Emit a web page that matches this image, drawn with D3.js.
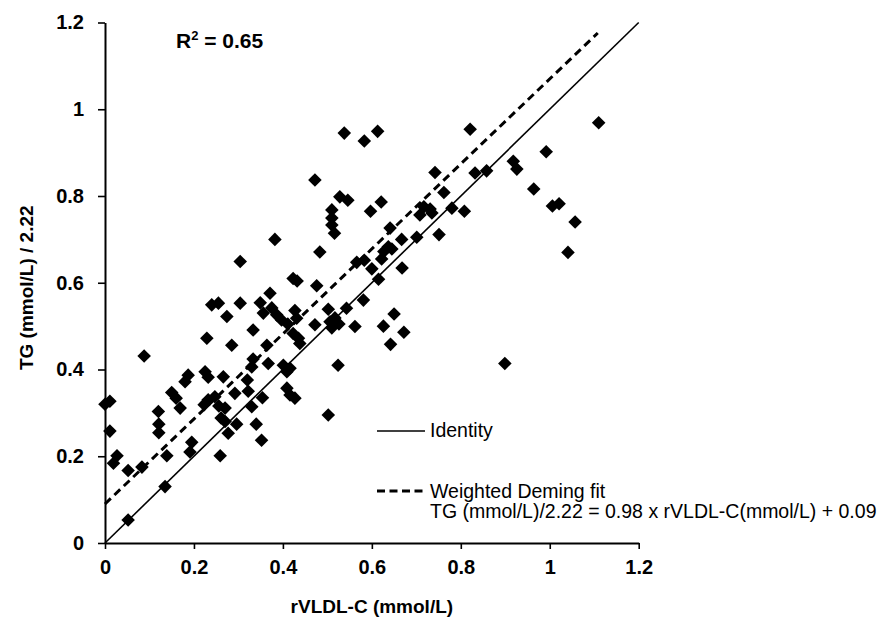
<!DOCTYPE html>
<html>
<head>
<meta charset="utf-8">
<script src="https://cdn.jsdelivr.net/npm/d3@7"></script>
<style>
  html, body { margin: 0; padding: 0; background: #fff; }
  svg { display: block; }
  text { font-family: "Liberation Sans", Arial, sans-serif; }
</style>
</head>
<body>
<svg id="chart" width="878" height="631"></svg>
<script>
// ---- data ----
const rvldl = [
  0.000,0.011,0.011,0.027,0.019,0.052,0.083,0.088,0.135,0.052,
  0.120,0.121,0.121,0.139,0.150,0.160,0.169,0.180,0.187,0.195,
  0.191,0.225,0.232,0.229,0.240,0.255,0.274,0.266,0.285,0.223,
  0.232,0.247,0.256,0.270,0.261,0.270,0.277,0.296,0.259,0.292,
  0.304,0.304,0.349,0.371,0.375,0.386,0.397,0.411,0.427,0.431,
  0.423,0.432,0.476,0.333,0.356,0.364,0.423,0.435,0.438,0.472,
  0.502,0.506,0.517,0.526,0.510,0.543,0.562,0.581,0.333,0.330,
  0.367,0.401,0.409,0.416,0.320,0.322,0.330,0.340,0.352,0.354,
  0.409,0.416,0.427,0.502,0.524,0.472,0.483,0.382,0.538,0.583,
  0.613,0.510,0.510,0.510,0.516,0.528,0.546,0.597,0.621,0.566,
  0.583,0.600,0.615,0.622,0.627,0.637,0.645,0.641,0.667,0.701,
  0.751,0.668,0.708,0.717,0.731,0.735,0.742,0.762,0.780,0.808,
  0.821,0.832,0.858,0.918,0.926,0.964,0.992,1.006,1.021,1.057,
  1.041,1.110,0.899,0.650,0.626,0.672,0.642
];
const tgRatio = [
  0.320,0.327,0.258,0.201,0.184,0.167,0.175,0.431,0.130,0.053,
  0.303,0.274,0.254,0.201,0.347,0.334,0.311,0.372,0.387,0.232,
  0.210,0.395,0.382,0.472,0.549,0.553,0.522,0.383,0.456,0.319,
  0.330,0.337,0.316,0.311,0.288,0.280,0.253,0.274,0.201,0.345,
  0.649,0.553,0.554,0.576,0.542,0.526,0.514,0.505,0.536,0.518,
  0.610,0.604,0.593,0.491,0.530,0.456,0.483,0.472,0.460,0.503,
  0.539,0.510,0.519,0.505,0.496,0.541,0.499,0.560,0.424,0.406,
  0.414,0.410,0.395,0.403,0.376,0.350,0.314,0.274,0.237,0.335,
  0.357,0.341,0.334,0.295,0.410,0.837,0.671,0.700,0.945,0.927,
  0.949,0.768,0.749,0.733,0.714,0.798,0.790,0.765,0.786,0.647,
  0.652,0.632,0.608,0.655,0.672,0.683,0.678,0.726,0.700,0.705,
  0.711,0.634,0.756,0.775,0.770,0.761,0.854,0.808,0.772,0.765,
  0.954,0.853,0.858,0.880,0.862,0.816,0.902,0.777,0.782,0.740,
  0.670,0.969,0.414,0.528,0.500,0.486,0.458
];
const xTicks = [0, 0.2, 0.4, 0.6, 0.8, 1, 1.2];
const yTicks = [0, 0.2, 0.4, 0.6, 0.8, 1, 1.2];
const fitSlope = 0.98, fitIntercept = 0.09;
const identityRange = [0, 1.2];
const fitRange = [0, 1.108];
const r2Label = "0.65";
const xTitle = "rVLDL-C (mmol/L)";
const yTitle = "TG (mmol/L) / 2.22";
const legendItems = ["Identity", "Weighted Deming fit"];
const equation = "TG (mmol/L)/2.22 = 0.98 x rVLDL-C(mmol/L) + 0.09";

// ---- layout ----
const svg = d3.select("#chart");
const plotLeft = 105, plotRight = 638.7, plotTop = 22.5, plotBottom = 543;
const x = d3.scaleLinear().domain([0, 1.2]).range([plotLeft, plotRight]);
const y = d3.scaleLinear().domain([0, 1.2]).range([plotBottom, plotTop]);
const fmt = d => d === 0 ? "0" : (d === 1 ? "1" : d3.format(".1f")(d));

// axes
const xAxis = d3.axisBottom(x).tickValues(xTicks).tickFormat(fmt).tickSizeInner(6).tickSizeOuter(0).tickPadding(11);
const yAxis = d3.axisLeft(y).tickValues(yTicks).tickFormat(fmt).tickSizeInner(7).tickSizeOuter(0).tickPadding(14);

const gx = svg.append("g").attr("transform", `translate(0,${plotBottom})`).call(xAxis);
const gy = svg.append("g").attr("transform", `translate(${plotLeft},0)`).call(yAxis);
[gx, gy].forEach(g => {
  g.select(".domain").attr("stroke", "#000").attr("stroke-width", 2);
  g.selectAll(".tick line").attr("stroke", "#000").attr("stroke-width", 1.6);
  g.selectAll(".tick text").attr("fill", "#000")
    .style("font-family", '"Liberation Sans", Arial, sans-serif')
    .style("font-size", "20px").style("font-weight", "bold");
});

// lines
const line = d3.line().x(d => x(d[0])).y(d => y(d[1]));
svg.append("path")
  .attr("d", line(identityRange.map(v => [v, v])))
  .attr("fill", "none").attr("stroke", "#000").attr("stroke-width", 1.6);
svg.append("path")
  .attr("d", line(fitRange.map(v => [v, fitSlope * v + fitIntercept])))
  .attr("fill", "none").attr("stroke", "#000").attr("stroke-width", 3)
  .attr("stroke-dasharray", "8,5");

// points
const sym = d3.symbol().type(d3.symbolSquare).size(92);
svg.append("g").selectAll("path")
  .data(rvldl.map((v, i) => [v, tgRatio[i]]))
  .join("path")
  .attr("d", sym)
  .attr("transform", d => `translate(${x(d[0])},${y(d[1])}) rotate(45)`)
  .attr("fill", "#000");

// titles
svg.append("text").attr("x", (plotLeft + plotRight) / 2).attr("y", 613)
  .attr("text-anchor", "middle").style("font-size", "19px").style("font-weight", "bold")
  .text(xTitle);
svg.append("text").attr("transform", `translate(33,${(plotTop + plotBottom) / 2 + 5}) rotate(-90)`)
  .attr("text-anchor", "middle").style("font-size", "19px").style("font-weight", "bold")
  .text(yTitle);

// R^2
const r2 = svg.append("text").attr("x", 176).attr("y", 48)
  .style("font-size", "21px").style("font-weight", "bold");
r2.append("tspan").text("R");
r2.append("tspan").attr("dy", -8).style("font-size", "13px").text("2");
r2.append("tspan").attr("dy", 8).text(" = " + r2Label);

// legend
svg.append("line").attr("x1", 377).attr("x2", 425).attr("y1", 431).attr("y2", 431)
  .attr("stroke", "#000").attr("stroke-width", 1.6);
svg.append("text").attr("x", 430).attr("y", 437).style("font-size", "19.5px").text(legendItems[0]);
svg.append("line").attr("x1", 377).attr("x2", 425).attr("y1", 491).attr("y2", 491)
  .attr("stroke", "#000").attr("stroke-width", 3).attr("stroke-dasharray", "8,4.5");
svg.append("text").attr("x", 430).attr("y", 498).style("font-size", "19.5px").text(legendItems[1]);
svg.append("text").attr("x", 430).attr("y", 518).style("font-size", "19.5px").text(equation);
</script>
</body>
</html>
